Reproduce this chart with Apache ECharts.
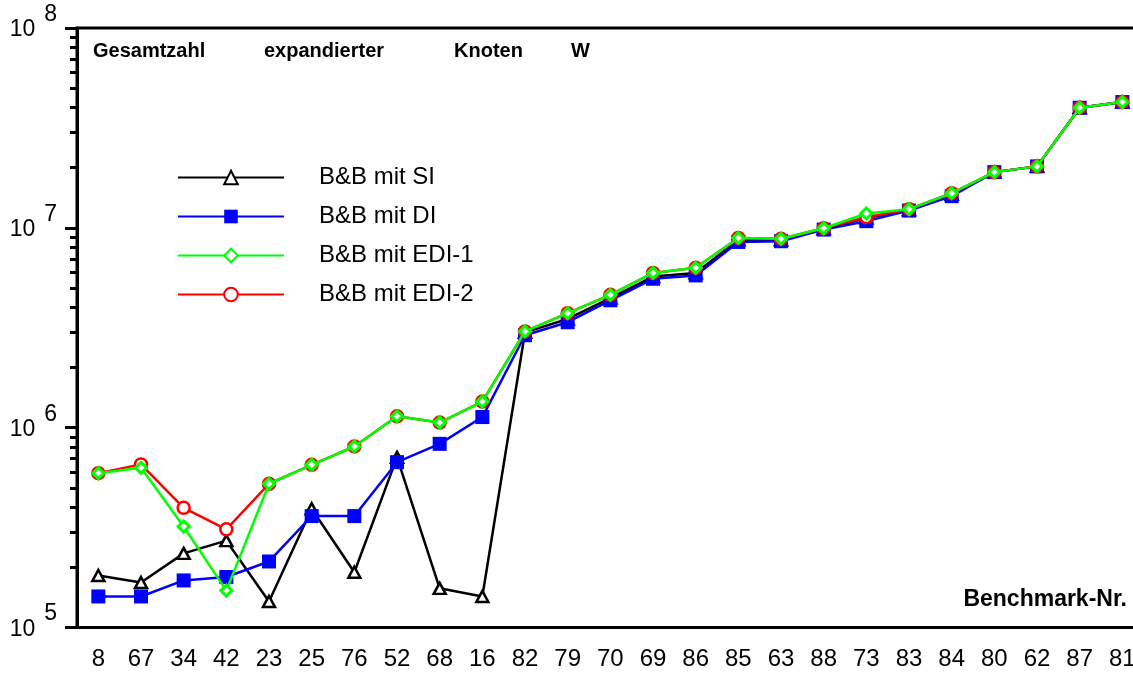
<!DOCTYPE html>
<html>
<head>
<meta charset="utf-8">
<script src="https://cdn.jsdelivr.net/npm/echarts@6/dist/echarts.min.js"></script>
<style>
html,body{margin:0;padding:0;background:#fff;}
#chart{width:1133px;height:673px;}
</style>
</head>
<body>
<div id="chart"></div>
<script>
const categories = ['8','67','34','42','23','25','76','52','68','16','82','79','70','69','86','85','63','88','73','83','84','80','62','87','81'];
const seriesSI   = [1.82e5,1.68e5,2.35e5,2.72e5,1.35e5,3.93e5,1.89e5,7.1e5,1.57e5,1.43e5,3.0e6,3.5e6,4.45e6,5.7e6,5.95e6,8.7e6,8.7e6,9.9e6,1.12e7,1.23e7,1.47e7,1.9e7,2.03e7,3.99e7,4.26e7];
const seriesDI   = [1.43e5,1.43e5,1.72e5,1.79e5,2.14e5,3.61e5,3.61e5,6.72e5,8.3e5,1.13e6,2.9e6,3.37e6,4.34e6,5.56e6,5.78e6,8.5e6,8.57e6,9.8e6,1.08e7,1.22e7,1.44e7,1.9e7,2.03e7,3.99e7,4.26e7];
const seriesEDI1 = [5.92e5,6.3e5,3.2e5,1.53e5,5.24e5,6.52e5,8.05e5,1.14e6,1.06e6,1.35e6,3.03e6,3.74e6,4.62e6,5.95e6,6.31e6,8.9e6,8.81e6,9.95e6,1.18e7,1.24e7,1.49e7,1.9e7,2.03e7,3.99e7,4.26e7];
const seriesEDI2 = [5.92e5,6.55e5,3.97e5,3.1e5,5.24e5,6.52e5,8.05e5,1.14e6,1.06e6,1.35e6,3.03e6,3.74e6,4.62e6,5.95e6,6.31e6,8.9e6,8.81e6,9.95e6,1.13e7,1.24e7,1.49e7,1.9e7,2.03e7,3.99e7,4.26e7];
const seriesNames = ['B&B mit SI','B&B mit DI','B&B mit EDI-1','B&B mit EDI-2'];
const majorTicks = [1e5,1e6,1e7,1e8];
const minorTicks = [2e5,3e5,4e5,5e5,6e5,7e5,8e5,9e5,2e6,3e6,4e6,5e6,6e6,7e6,8e6,9e6,2e7,3e7,4e7,5e7,6e7,7e7,8e7,9e7];
const titleText = 'Gesamtzahl   expandierter   Knoten   W';
const xAxisTitle = 'Benchmark-Nr.';

const FONT = "'Liberation Sans', Arial, sans-serif";
const chart = echarts.init(document.getElementById('chart'), null, {renderer:'canvas'});

const titleWords = titleText.split(/(?<=\s)(?=\S)/); // words with trailing spaces
const titleWidths = [171, 190, 117, 30];
const titleRich = {};
let titleFmt = '';
titleWords.forEach((w, i) => {
  const key = 'w' + i;
  titleRich[key] = {fontSize:20, fontWeight:'bold', fontFamily:FONT, color:'#000', width:titleWidths[i]};
  titleFmt += '{' + key + '|' + w + '}';
});

const option = {
  animation: false,
  backgroundColor: '#fff',
  title: [
    {text: titleFmt, left: 93, top: 41, padding: 0,
     textStyle: {rich: titleRich, fontSize:20, fontWeight:'bold', fontFamily:FONT, color:'#000'}},
    {text: xAxisTitle, right: 6, top: 588, padding: 0,
     textStyle: {fontSize:23, fontWeight:'bold', fontFamily:FONT, color:'#000'}}
  ],
  legend: {
    orient: 'vertical',
    left: 177, top: 164, padding: 0,
    itemWidth: 106, itemHeight: 17, itemGap: 12,
    data: [seriesNames[0], seriesNames[1], seriesNames[2], seriesNames[3]],
    textStyle: {fontSize:24, fontFamily:FONT, color:'#000', lineHeight:27, padding:[0,0,0,30]}
  },
  grid: {
    left: 77, top: 28, width: 1066.7, bottom: 45.5,
    outerBoundsMode: 'none',
    show: true, borderColor: '#000', borderWidth: 3, backgroundColor: 'transparent',
    containLabel: false
  },
  xAxis: {
    type: 'category', data: categories, boundaryGap: true,
    axisLine: {lineStyle: {color:'#000', width:3}},
    axisTick: {alignWithLabel: true, length: 12, lineStyle: {color:'#000', width:3}},
    axisLabel: {fontSize:24, fontFamily:FONT, color:'#000', margin:20, interval:0},
    splitLine: {show:false}
  },
  yAxis: [
    {
      type: 'log', logBase: 10, min: 1e5, max: 1e8,
      axisLine: {show:true, lineStyle: {color:'#000', width:3}},
      axisTick: {show:true, length:12, lineStyle:{color:'#000', width:3}, customValues: majorTicks},
      axisLabel: {
        margin: 20,
        customValues: majorTicks,
        formatter: function (v) {
          const e = Math.round(Math.log10(v));
          return '{b|10}{s|' + e + '}';
        },
        rich: {
          b: {fontSize:23, fontFamily:FONT, color:'#000', padding:[4,0,0,0]},
          s: {fontSize:23, fontFamily:FONT, color:'#000', padding:[0,0,27,9]}
        }
      },
      splitLine: {show:false}
    },
    {
      type: 'log', logBase: 10, min: 1e5, max: 1e8, position: 'left',
      axisLine: {show:false},
      axisTick: {show:true, length:7, lineStyle:{color:'#000', width:3}, customValues: minorTicks},
      axisLabel: {show:false},
      splitLine: {show:false}
    }
  ],
  series: [
    {
      name: seriesNames[0], type: 'line', data: seriesSI, color: '#000',
      symbol: 'triangle', symbolSize: [12, 11],
      lineStyle: {color:'#000', width:2.5},
      itemStyle: {color:'#fff', borderColor:'#000', borderWidth:2.5},
      z: 2
    },
    {
      name: seriesNames[1], type: 'line', data: seriesDI, color: '#0000ff',
      symbol: 'rect', symbolSize: 14,
      lineStyle: {color:'#0000ff', width:2.5},
      itemStyle: {color:'#0000ff', borderWidth:0},
      z: 3
    },
    {
      name: seriesNames[3], type: 'line', data: seriesEDI2, color: '#ff0000',
      symbol: 'circle', symbolSize: 12,
      lineStyle: {color:'#ff0000', width:2.5},
      itemStyle: {color:'#fff', borderColor:'#ff0000', borderWidth:2.5},
      z: 4
    },
    {
      name: seriesNames[2], type: 'line', data: seriesEDI1, color: '#00ff00',
      symbol: 'diamond', symbolSize: 11,
      lineStyle: {color:'#00ff00', width:2.5},
      itemStyle: {color:'#fff', borderColor:'#00ff00', borderWidth:3},
      z: 5
    }
  ]
};
chart.setOption(option);
</script>
</body>
</html>
